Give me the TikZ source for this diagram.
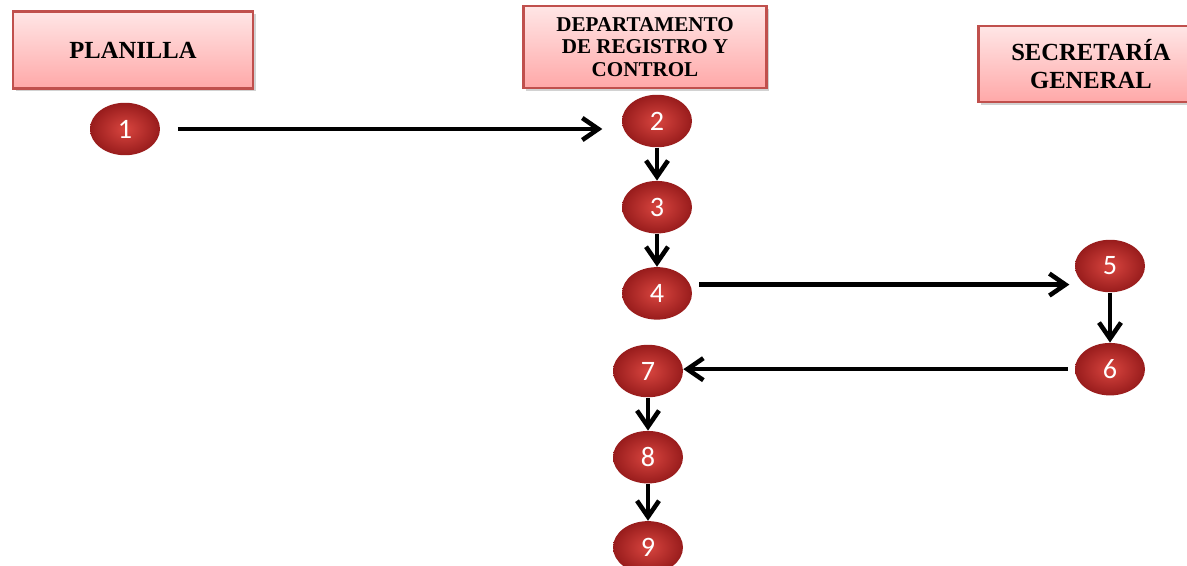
\documentclass[tikz,border=0pt]{standalone}
\usepackage{fontspec}
\setmainfont{Liberation Serif}
\newfontfamily\numfont{Carlito}
\usetikzlibrary{arrows.meta,positioning,calc,shapes.geometric,shadows}
\definecolor{bordeRojo}{HTML}{C0504D}
\definecolor{rosaArriba}{HTML}{FFE6E6}
\definecolor{rosaAbajo}{HTML}{FFA8A8}
\definecolor{rojoClaro}{HTML}{D8453F}
\definecolor{rojoOscuro}{HTML}{981C1C}
\tikzset{
  area/.style={
    rectangle,
    draw=bordeRojo,
    line width=1.2pt,
    top color=rosaArriba,
    bottom color=rosaAbajo,
    align=center,
    inner sep=2pt,
    font=\bfseries\fontsize{14}{15.5}\selectfont,
    drop shadow={opacity=0.35, shadow xshift=1.5pt, shadow yshift=-1.5pt}
  },
  paso/.style={
    ellipse,
    minimum width=1.4cm,
    minimum height=1.05cm,
    inner sep=0pt,
    inner color=rojoClaro,
    outer color=rojoOscuro,
    text=white,
    font=\numfont\fontsize{16}{16}\selectfont
  },
  flecha/.style={-{Straight Barb[length=3.2mm,width=4.4mm]}, line width=2.6pt, draw=black}
}

\begin{document}
\begin{tikzpicture}[x=0.02cm, y=0.02cm]
  \fill[white] (0,0) rectangle (1187,-565);
  \useasboundingbox (0,0) rectangle (1187,-565);

  % columnas
  \node[area, minimum width=4.8cm, minimum height=1.54cm] (planilla) at (133,-50) {PLANILLA};
  \node[area, minimum width=4.86cm, minimum height=1.64cm,
        font=\bfseries\fontsize{12}{13}\selectfont] (registro) at (645,-47)
        {DEPARTAMENTO\\DE REGISTRO Y\\CONTROL};
  \node[area, minimum width=4.5cm, minimum height=1.52cm] (secretaria) at (1091,-64)
        {SECRETARÍA\\GENERAL};

  % pasos
  \node[paso] (n1) at (125,-129) {1};
  \node[paso] (n2) at (657,-121) {2};
  \node[paso, below=0.66cm of n2] (n3) {3};
  \node[paso, below=0.66cm of n3] (n4) {4};
  \node[paso] (n5) at (1110,-266) {5};
  \node[paso, below=1.0cm of n5] (n6) {6};
  \node[paso] (n7) at (648,-371) {7};
  \node[paso, below=0.66cm of n7] (n8) {8};
  \node[paso, below=0.74cm of n8] (n9) {9};

  \draw[flecha, shorten <=10pt, shorten >=11pt] (n1.east) -- (n1.east -| n2.west);
  \draw[flecha] (n2) -- (n3);
  \draw[flecha] (n3) -- (n4);
  \draw[flecha, shorten <=4pt, shorten >=3pt] ([yshift=5pt]n4.east) -- ([yshift=5pt]n4.east -| n5.west);
  \draw[flecha] (n5) -- (n6);
  \draw[flecha, shorten <=4pt] (n6.west) -- (n6.west -| n7.east);
  \draw[flecha] (n7) -- (n8);
  \draw[flecha] (n8) -- (n9);
\end{tikzpicture}
\end{document}
